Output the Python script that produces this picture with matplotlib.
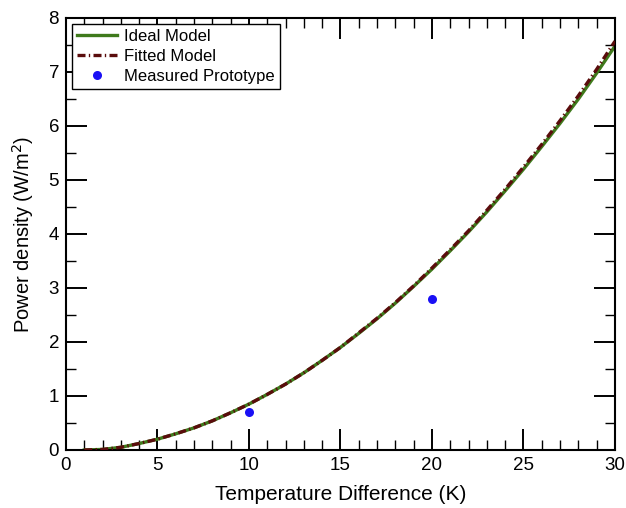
import matplotlib
matplotlib.use("Agg")
import matplotlib.pyplot as plt
from matplotlib.ticker import MultipleLocator

plt.rcParams["font.family"] = ["Liberation Sans", "DejaVu Sans"]

# temperature difference (K)
dT = list(range(1, 31))

# ideal model power density (W/m^2)
ideal = [0.00, 0.01, 0.05, 0.12, 0.20, 0.30, 0.41, 0.54, 0.69, 0.85,
         1.03, 1.22, 1.43, 1.66, 1.90, 2.16, 2.43, 2.72, 3.03, 3.35,
         3.69, 4.04, 4.41, 4.80, 5.20, 5.62, 6.05, 6.50, 6.98, 7.48]

# fitted model power density (W/m^2)
fitted = [0.00, 0.01, 0.05, 0.12, 0.20, 0.30, 0.41, 0.54, 0.69, 0.85,
          1.03, 1.22, 1.43, 1.66, 1.90, 2.17, 2.44, 2.73, 3.04, 3.37,
          3.71, 4.06, 4.44, 4.83, 5.24, 5.66, 6.10, 6.56, 7.05, 7.57]

# measured prototype
meas_dT = [10, 20]
meas_p = [0.70, 2.80]

fig = plt.figure(figsize=(6.26, 5.08), dpi=100)
ax = fig.add_axes([0.1054, 0.1142, 0.877, 0.8504])

ax.plot(dT, ideal, color="#3f7a1c", lw=2.4, label="Ideal Model", zorder=2)
ax.plot(dT, fitted, color="#5a0c0c", lw=2.4, dashes=(2.4, 1.0, 0.4, 1.0),
        label="Fitted Model", zorder=3)
ax.plot(meas_dT, meas_p, "o", color="#1a10f5", ms=6.5, mec="none",
        label="Measured Prototype", zorder=4)

ax.set_xlim(0, 30)
ax.set_ylim(0, 8)
ax.xaxis.set_major_locator(MultipleLocator(5))
ax.xaxis.set_minor_locator(MultipleLocator(1))
ax.yaxis.set_major_locator(MultipleLocator(1))
ax.yaxis.set_minor_locator(MultipleLocator(0.5))
ax.tick_params(which="both", direction="in", top=True, right=True,
               labelsize=13.5, pad=5)
ax.tick_params(which="major", length=15, width=1.4)
ax.tick_params(which="minor", length=7.5, width=1.0)
for s in ax.spines.values():
    s.set_linewidth(1.5)

ax.set_xlabel("Temperature Difference (K)", fontsize=15, labelpad=8)
ax.set_ylabel("Power density (W/m$^2$)", fontsize=14.5, labelpad=9)

leg = ax.legend(loc="upper left", fontsize=12, fancybox=False,
                edgecolor="black", framealpha=1, borderaxespad=0.35,
                handlelength=2.4, borderpad=0.3, labelspacing=0.3,
                handletextpad=0.45)
leg.get_frame().set_linewidth(1.0)

fig.savefig("out.png", dpi=100)
